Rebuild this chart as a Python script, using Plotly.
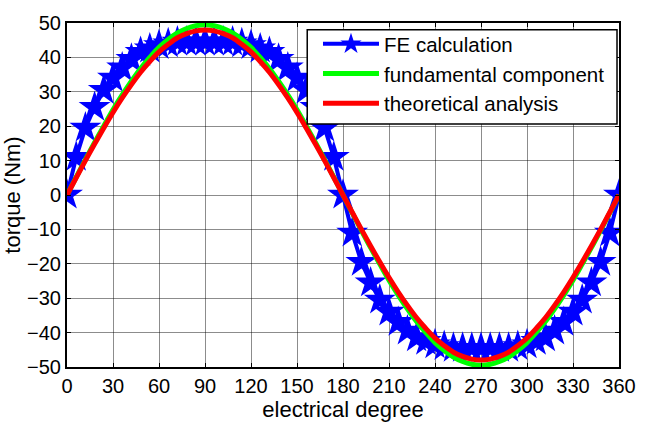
import plotly.graph_objects as go

angles = list(range(0, 361, 6))

fe_calc = [0, 11, 19.5, 25.5, 30.5, 34, 37, 39.5, 41.5, 42.5, 43.5, 44, 44.5, 44.5, 44.5, 44.5,
           44.5, 44.5, 44.5, 44, 43.5, 42.5, 41.5, 39.5, 37, 34, 30.5, 25.5, 19.5, 11, 0,
           -11, -19.5, -25.5, -30.5, -34, -37, -39.5, -41.5, -42.5, -43.5, -44, -44.5, -44.5, -44.5, -44.5,
           -44.5, -44.5, -44.5, -44, -43.5, -42.5, -41.5, -39.5, -37, -34, -30.5, -25.5, -19.5, -11, 0]

fundamental = [0, 5.2, 10.3, 15.3, 20.1, 24.8, 29.1, 33.1, 36.8, 40.0, 42.9, 45.2, 47.1, 48.4, 49.2, 49.5,
               49.2, 48.4, 47.1, 45.2, 42.9, 40.0, 36.8, 33.1, 29.1, 24.8, 20.1, 15.3, 10.3, 5.2, 0,
               -5.2, -10.3, -15.3, -20.1, -24.8, -29.1, -33.1, -36.8, -40.0, -42.9, -45.2, -47.1, -48.4, -49.2, -49.5,
               -49.2, -48.4, -47.1, -45.2, -42.9, -40.0, -36.8, -33.1, -29.1, -24.8, -20.1, -15.3, -10.3, -5.2, 0]

theoretical = [0, 5.0, 10.0, 14.8, 19.5, 24.0, 28.2, 32.1, 35.7, 38.8, 41.6, 43.8, 45.7, 46.9, 47.7, 48.0,
               47.7, 46.9, 45.7, 43.8, 41.6, 38.8, 35.7, 32.1, 28.2, 24.0, 19.5, 14.8, 10.0, 5.0, 0,
               -5.0, -10.0, -14.8, -19.5, -24.0, -28.2, -32.1, -35.7, -38.8, -41.6, -43.8, -45.7, -46.9, -47.7, -48.0,
               -47.7, -46.9, -45.7, -43.8, -41.6, -38.8, -35.7, -32.1, -28.2, -24.0, -19.5, -14.8, -10.0, -5.0, 0]

x_ticks = list(range(0, 361, 30))
y_ticks = list(range(-50, 51, 10))

FONT = "Arial, Liberation Sans, sans-serif"

fig = go.Figure()
fig.add_trace(go.Scatter(x=angles, y=fe_calc, mode="lines+markers", name="FE calculation",
                         line=dict(color="#0000ff", width=4),
                         marker=dict(symbol="star", size=24, color="#0000ff",
                                     line=dict(width=0))))
fig.add_trace(go.Scatter(x=angles, y=fundamental, mode="lines", name="fundamental component",
                         line=dict(color="#00ff00", width=5, shape="spline")))
fig.add_trace(go.Scatter(x=angles, y=theoretical, mode="lines", name="theoretical analysis",
                         line=dict(color="#ff0000", width=5, shape="spline")))

axis_common = dict(showline=True, linecolor="black", linewidth=2, mirror="ticks",
                   ticks="inside", ticklen=4, tickcolor="black",
                   showgrid=True, gridcolor="rgba(0,0,0,0.45)", gridwidth=1,
                   zeroline=False, tickfont=dict(family=FONT, size=20, color="black"))

# legend frame drawn as a shape so its size can match the original
fig.add_shape(type="rect", xref="paper", yref="paper",
              x0=0.4352, x1=0.9964, y0=0.7062, y1=0.9802,
              fillcolor="white", line=dict(color="black", width=1.5), layer="above")

fig.update_layout(
    width=648, height=428,
    margin=dict(l=65, r=20, t=14, b=60),
    paper_bgcolor="white", plot_bgcolor="white",
    font=dict(family=FONT, color="black"),
    xaxis=dict(range=[0, 360], tickvals=x_ticks,
               title=dict(text="electrical degree", font=dict(family=FONT, size=22), standoff=4),
               **axis_common),
    yaxis=dict(range=[-50, 50], tickvals=y_ticks,
               title=dict(text="torque (Nm)", font=dict(family=FONT, size=22), standoff=0),
               **axis_common),
    legend=dict(x=0.4547, y=0.997, xanchor="left", yanchor="top",
                bgcolor="rgba(0,0,0,0)", borderwidth=0,
                font=dict(family=FONT, size=20.5), itemwidth=56,
                tracegroupgap=0),
    showlegend=True,
)

fig.write_html("out.html")
